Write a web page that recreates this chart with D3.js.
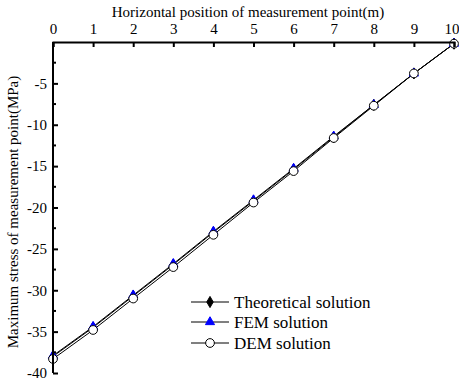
<!DOCTYPE html>
<html><head><meta charset="utf-8">
<script src="https://cdn.jsdelivr.net/npm/d3@7"></script>
<style>body{margin:0;background:#fff}svg{display:block}</style>
</head><body>
<svg id="c" width="459" height="381"></svg>
<script>
const positions = [0,1,2,3,4,5,6,7,8,9,10];
const theoretical = [-38.0,-34.5,-30.7,-26.9,-23.0,-19.2,-15.4,-11.5,-7.6,-3.8,-0.2];
const fem = [-37.9,-34.4,-30.6,-26.8,-22.9,-19.1,-15.3,-11.4,-7.6,-3.8,-0.2];
const dem = [-38.3,-34.8,-31.0,-27.2,-23.3,-19.4,-15.6,-11.6,-7.7,-3.8,-0.2];
const xTicks = [0,1,2,3,4,5,6,7,8,9,10];
const yTicks = [-5,-10,-15,-20,-25,-30,-35,-40];
const yMinor = [-2.5,-7.5,-12.5,-17.5,-22.5,-27.5,-32.5,-37.5];
const seriesNames = ["Theoretical solution","FEM solution","DEM solution"];

const svg = d3.select("#c");
const font = "'Liberation Serif','Times New Roman',serif";
const x = d3.scaleLinear().domain([0,10]).range([53,454]);
const y = d3.scaleLinear().domain([0,-40]).range([42,373]);

const line = d3.line().x((d,i)=>x(positions[i])).y(d=>y(d));
[theoretical, fem, dem].forEach(s=>{
  svg.append("path").attr("d", line(s)).attr("fill","none").attr("stroke","#000").attr("stroke-width",1);
});

const diamond = d3.symbol().type(d3.symbolDiamond).size(36);
const tri = d3.symbol().type(d3.symbolTriangle).size(36);
const circ = d3.symbol().type(d3.symbolCircle).size(60);

function markers(data, sym, fill, stroke){
  svg.append("g").selectAll("path").data(data).join("path")
    .attr("d", sym).attr("transform",(d,i)=>`translate(${x(positions[i])},${y(d)})`)
    .attr("fill",fill).attr("stroke",stroke).attr("stroke-width",1);
}
markers(theoretical, diamond, "#000", "#000");
markers(fem, tri, "#0000ff", "#0000ff");
markers(dem, circ, "#fff", "#000");

const fmt = d => String(d);
const xAxis = d3.axisTop(x).tickValues(xTicks).tickSize(-5).tickPadding(8).tickFormat(fmt);
const gx = svg.append("g").attr("transform",`translate(0,${y(0)})`).call(xAxis);
gx.select(".domain").attr("stroke-width",2);
gx.selectAll(".tick line").attr("stroke-width",2);
gx.selectAll("text").attr("font-family",font).attr("font-size",15).attr("fill","#000");
// keep the last label inside the picture
gx.selectAll(".tick text").filter(d=>d===10).attr("text-anchor","end").attr("dx",5);

const yAxis = d3.axisLeft(y).tickValues(yTicks).tickSize(-5).tickPadding(6).tickFormat(fmt);
const gy = svg.append("g").attr("transform",`translate(${x(0)},0)`).call(yAxis);
gy.select(".domain").attr("stroke-width",2).attr("d",`M0,${y(0)}V${y(-40)}`);
gy.selectAll(".tick line").attr("stroke-width",2);
gy.selectAll("text").attr("font-family",font).attr("font-size",15).attr("fill","#000");
gy.append("g").selectAll("line").data(yMinor).join("line")
  .attr("x1",0).attr("x2",3).attr("y1",d=>y(d)).attr("y2",d=>y(d))
  .attr("stroke","#000").attr("stroke-width",2);

svg.append("text").attr("x",248).attr("y",17).attr("text-anchor","middle")
  .attr("font-family",font).attr("font-size",15).text("Horizontal position of measurement point(m)");
svg.append("text").attr("transform","translate(18,212) rotate(-90)").attr("text-anchor","middle")
  .attr("font-family",font).attr("font-size",15).text("Maximum stress of measurement point(MPa)");

const legY = [302,322,343];
const legSyms = [[diamond,"#000","#000"],[tri,"#0000ff","#0000ff"],[circ,"#fff","#000"]];
seriesNames.forEach((n,i)=>{
  const g = svg.append("g").attr("transform",`translate(0,${legY[i]})`);
  g.append("line").attr("x1",191).attr("x2",229).attr("y1",0).attr("y2",0).attr("stroke","#000").attr("stroke-width",1);
  g.append("path").attr("d",legSyms[i][0]).attr("transform","translate(210,0)")
    .attr("fill",legSyms[i][1]).attr("stroke",legSyms[i][2]);
  g.append("text").attr("x",234).attr("y",5.5).attr("font-family",font).attr("font-size",17).text(n);
});
</script>
</body></html>
